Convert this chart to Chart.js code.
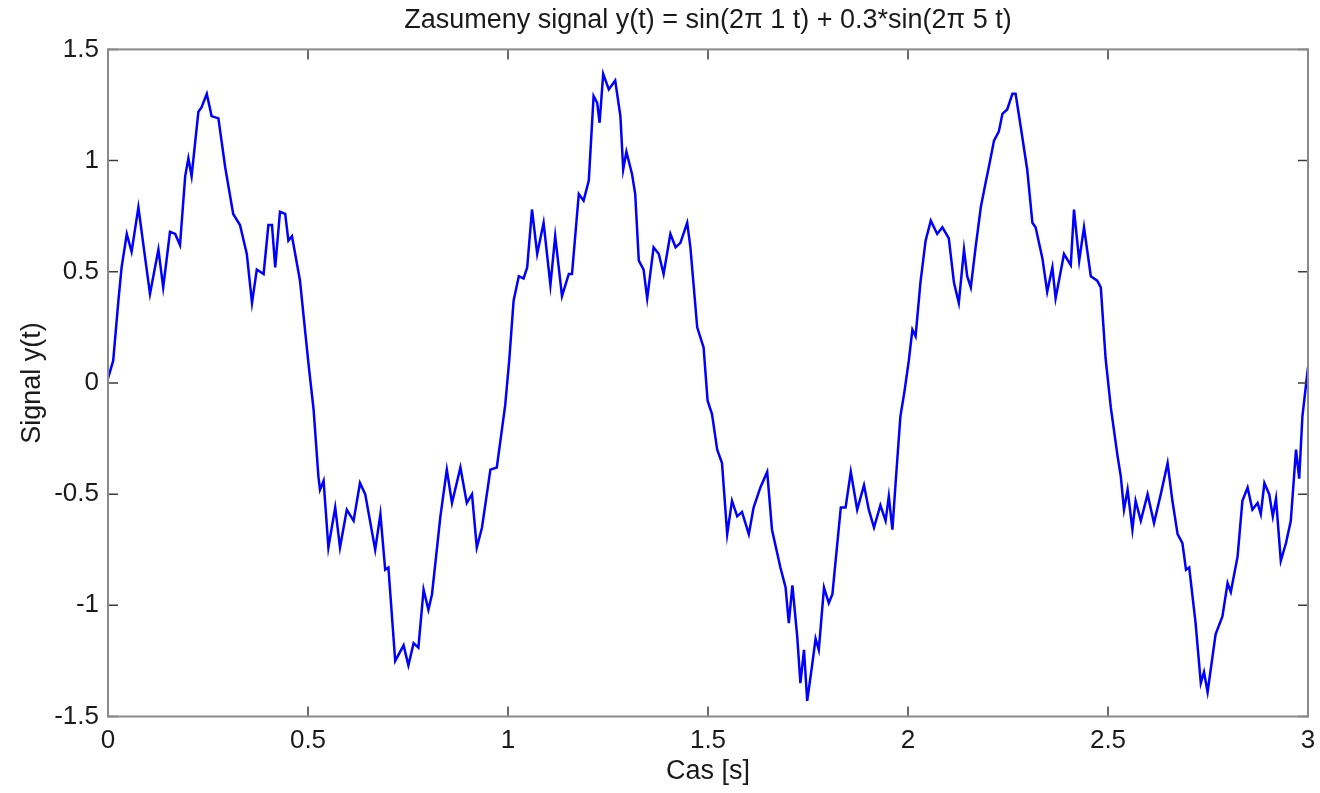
<!DOCTYPE html>
<html>
<head>
<meta charset="utf-8">
<title>Zasumeny signal</title>
<script src="https://cdn.jsdelivr.net/npm/chart.js@4"></script>
<style>
  html, body { margin: 0; padding: 0; background: #fff; }
  #graf { display: block; }
</style>
</head>
<body>
<canvas id="graf" width="1320" height="793"></canvas>
<script>
// cas [s]
var casy = [
  0.000, 0.013, 0.026, 0.034, 0.047, 0.059, 0.076, 0.093, 0.105, 0.126,
  0.138, 0.155, 0.168, 0.180, 0.193, 0.201, 0.209, 0.226, 0.234, 0.247,
  0.259, 0.276, 0.293, 0.313, 0.330, 0.347, 0.360, 0.372, 0.389, 0.401,
  0.410, 0.418, 0.430, 0.443, 0.451, 0.460, 0.480, 0.489, 0.501, 0.514,
  0.526, 0.530, 0.539, 0.551, 0.568, 0.580, 0.597, 0.614, 0.630, 0.643,
  0.668, 0.681, 0.693, 0.701, 0.718, 0.739, 0.751, 0.764, 0.776, 0.789,
  0.801, 0.810, 0.831, 0.847, 0.860, 0.881, 0.897, 0.910, 0.922, 0.935,
  0.956, 0.972, 0.993, 1.003, 1.014, 1.027, 1.039, 1.048, 1.060, 1.073,
  1.089, 1.106, 1.118, 1.135, 1.152, 1.160, 1.177, 1.189, 1.202, 1.214,
  1.223, 1.229, 1.238, 1.252, 1.268, 1.281, 1.288, 1.296, 1.310, 1.318,
  1.327, 1.339, 1.348, 1.364, 1.377, 1.389, 1.406, 1.419, 1.431, 1.448,
  1.456, 1.473, 1.489, 1.499, 1.510, 1.523, 1.535, 1.548, 1.560, 1.573,
  1.585, 1.602, 1.614, 1.631, 1.648, 1.660, 1.681, 1.694, 1.702, 1.711,
  1.723, 1.731, 1.740, 1.748, 1.761, 1.769, 1.777, 1.790, 1.802, 1.811,
  1.832, 1.844, 1.857, 1.873, 1.890, 1.902, 1.915, 1.931, 1.944, 1.952,
  1.961, 1.969, 1.981, 1.991, 2.002, 2.011, 2.019, 2.031, 2.044, 2.057,
  2.073, 2.086, 2.102, 2.115, 2.127, 2.140, 2.148, 2.157, 2.169, 2.182,
  2.194, 2.202, 2.215, 2.227, 2.236, 2.248, 2.261, 2.269, 2.282, 2.298,
  2.311, 2.319, 2.336, 2.348, 2.361, 2.369, 2.390, 2.407, 2.415, 2.428,
  2.440, 2.457, 2.473, 2.482, 2.494, 2.507, 2.524, 2.532, 2.540, 2.549,
  2.561, 2.569, 2.582, 2.599, 2.615, 2.632, 2.649, 2.661, 2.674, 2.686,
  2.695, 2.703, 2.719, 2.732, 2.740, 2.749, 2.769, 2.786, 2.799, 2.807,
  2.824, 2.836, 2.849, 2.861, 2.874, 2.882, 2.891, 2.903, 2.912, 2.920,
  2.932, 2.945, 2.957, 2.970, 2.978, 2.986, 3.000
];

// zasumeny signal y(t)
var signal = [
  0.02, 0.10, 0.37, 0.52, 0.67, 0.59, 0.79, 0.56, 0.40, 0.60,
  0.43, 0.68, 0.67, 0.62, 0.93, 1.01, 0.93, 1.22, 1.24, 1.30,
  1.20, 1.19, 0.97, 0.76, 0.71, 0.58, 0.36, 0.51, 0.49, 0.71,
  0.71, 0.52, 0.77, 0.76, 0.64, 0.66, 0.46, 0.30, 0.09, -0.12,
  -0.42, -0.48, -0.44, -0.74, -0.56, -0.74, -0.57, -0.62, -0.45, -0.50,
  -0.75, -0.59, -0.84, -0.83, -1.25, -1.18, -1.27, -1.17, -1.19, -0.93,
  -1.02, -0.95, -0.60, -0.39, -0.54, -0.38, -0.54, -0.50, -0.74, -0.65,
  -0.39, -0.38, -0.10, 0.10, 0.37, 0.48, 0.47, 0.52, 0.78, 0.58,
  0.72, 0.44, 0.66, 0.39, 0.49, 0.49, 0.85, 0.82, 0.91, 1.29,
  1.26, 1.17, 1.39, 1.32, 1.36, 1.20, 0.96, 1.04, 0.94, 0.85,
  0.55, 0.51, 0.38, 0.61, 0.58, 0.49, 0.67, 0.61, 0.63, 0.72,
  0.61, 0.25, 0.16, -0.08, -0.14, -0.30, -0.36, -0.68, -0.53, -0.60,
  -0.58, -0.68, -0.56, -0.47, -0.40, -0.66, -0.83, -0.92, -1.08, -0.91,
  -1.14, -1.35, -1.20, -1.43, -1.26, -1.15, -1.20, -0.92, -0.99, -0.95,
  -0.56, -0.56, -0.40, -0.57, -0.46, -0.57, -0.65, -0.55, -0.62, -0.51,
  -0.66, -0.45, -0.15, -0.04, 0.10, 0.24, 0.21, 0.45, 0.64, 0.73,
  0.67, 0.70, 0.65, 0.45, 0.36, 0.60, 0.48, 0.43, 0.61, 0.79,
  0.90, 0.97, 1.09, 1.13, 1.21, 1.23, 1.30, 1.30, 1.15, 0.96,
  0.72, 0.70, 0.56, 0.41, 0.52, 0.38, 0.58, 0.53, 0.78, 0.55,
  0.70, 0.48, 0.46, 0.43, 0.11, -0.11, -0.33, -0.42, -0.57, -0.48,
  -0.66, -0.53, -0.62, -0.50, -0.63, -0.50, -0.36, -0.53, -0.68, -0.72,
  -0.84, -0.83, -1.08, -1.35, -1.30, -1.39, -1.13, -1.05, -0.90, -0.94,
  -0.78, -0.53, -0.47, -0.57, -0.54, -0.59, -0.45, -0.50, -0.60, -0.52,
  -0.80, -0.72, -0.62, -0.30, -0.43, -0.15, 0.07
];

var nadpis = 'Zasumeny signal y(t) = sin(2\u03c0 1 t) + 0.3*sin(2\u03c0 5 t)';
var popisX = 'Cas [s]';
var popisY = 'Signal y(t)';

var body = [];
for (var i = 0; i < casy.length; i++) {
  body.push({ x: casy[i], y: signal[i] });
}

var rodina = '"Liberation Sans", Arial, sans-serif';
var pismoTick = { family: rodina, size: 26, weight: 'normal' };
var pismo = { family: rodina, size: 27, weight: 'normal' };

// popisky jako v matlabu: 1, 0.5, -1 (bez .0)
function cislo(v) {
  return String(Math.round(v * 10) / 10);
}

// ramecek okolo grafu a kratke ticky dovnitr (vsechny 4 strany)
var ramecek = {
  id: 'ramecek',
  afterDatasetsDraw: function(chart) {
    var ctx = chart.ctx;
    var a = chart.chartArea;
    var sx = chart.scales.x, sy = chart.scales.y;
    var d = 10;
    ctx.save();
    ctx.strokeStyle = '#3c3c3c';
    ctx.lineWidth = 1.5;
    ctx.beginPath();
    sx.ticks.forEach(function(t) {
      var px = sx.getPixelForValue(t.value);
      ctx.moveTo(px, a.bottom); ctx.lineTo(px, a.bottom - d);
      ctx.moveTo(px, a.top); ctx.lineTo(px, a.top + d);
    });
    sy.ticks.forEach(function(t) {
      var py = sy.getPixelForValue(t.value);
      ctx.moveTo(a.left, py); ctx.lineTo(a.left + d, py);
      ctx.moveTo(a.right, py); ctx.lineTo(a.right - d, py);
    });
    ctx.stroke();
    ctx.strokeStyle = '#8a8a8a';
    ctx.lineWidth = 2;
    ctx.strokeRect(a.left, a.top, a.right - a.left, a.bottom - a.top);
    ctx.restore();
  }
};

var ctx = document.getElementById('graf');
var graf = new Chart(ctx, {
  type: 'line',
  data: {
    datasets: [{
      label: popisY,
      data: body,
      borderColor: '#0000ff',
      borderWidth: 2.5,
      pointRadius: 0,
      tension: 0,
      fill: false
    }]
  },
  options: {
    responsive: false,
    animation: false,
    devicePixelRatio: 1,
    layout: { padding: { left: 0, right: 12, top: 0, bottom: 0 } },
    plugins: {
      legend: { display: false },
      tooltip: { enabled: false },
      title: {
        display: true,
        fullSize: false,
        text: nadpis,
        color: '#1a1a1a',
        font: pismo,
        padding: { top: 4, bottom: 13 }
      }
    },
    scales: {
      x: {
        type: 'linear',
        min: 0,
        max: 3,
        grid: { display: false, drawTicks: false },
        border: { display: false },
        ticks: { stepSize: 0.5, color: '#1a1a1a', font: pismoTick, padding: 9, maxRotation: 0, callback: cislo },
        title: { display: true, text: popisX, color: '#1a1a1a', font: pismo, padding: { top: 0, bottom: 5 } },
        afterFit: function(s) {
          s.height = 76.5;
          s.paddingLeft = 0;
          s.paddingRight = 0;
        }
      },
      y: {
        min: -1.5,
        max: 1.5,
        grid: { display: false, drawTicks: false },
        border: { display: false },
        ticks: { stepSize: 0.5, color: '#1a1a1a', font: pismoTick, padding: 9, callback: cislo },
        title: { display: true, text: popisY, color: '#1a1a1a', font: pismo, padding: { top: 16, bottom: 0 } },
        afterFit: function(s) { s.width = 108; }
      }
    }
  },
  plugins: [ramecek]
});
</script>
</body>
</html>
